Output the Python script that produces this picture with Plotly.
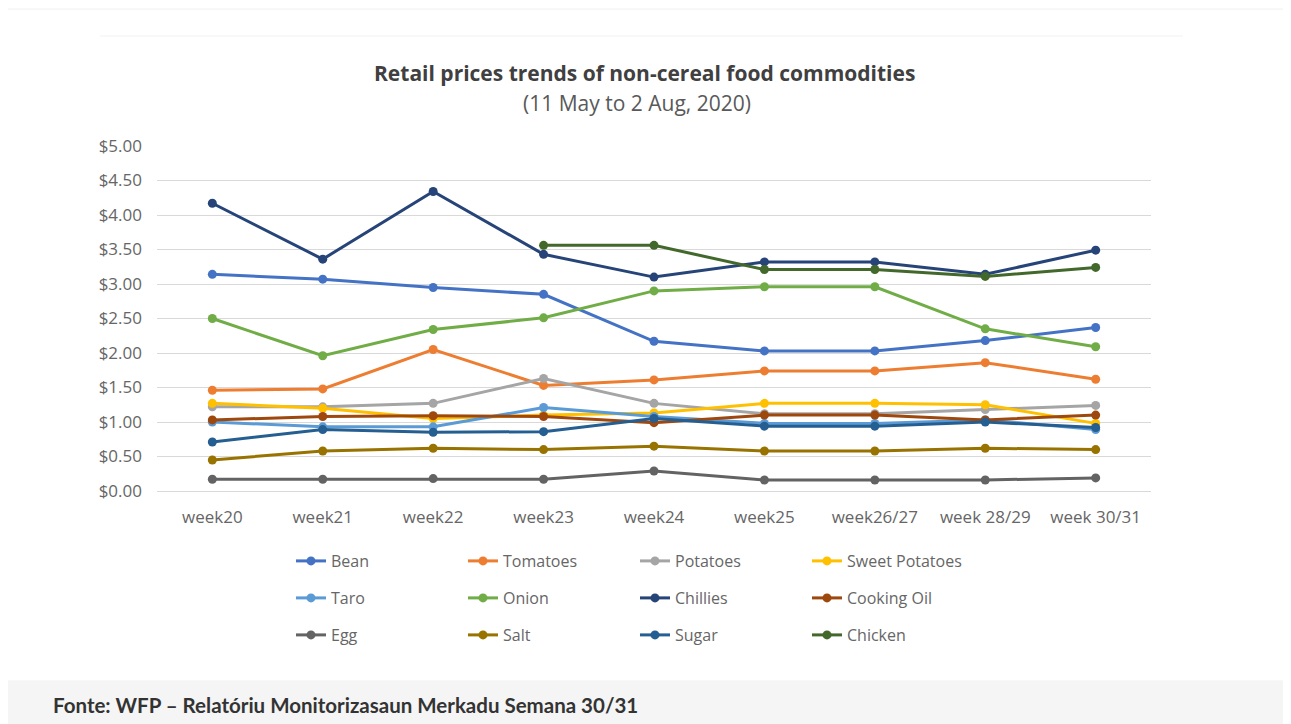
import plotly.graph_objects as go

weeks = ["week20", "week21", "week22", "week23", "week24", "week25",
         "week26/27", "week 28/29", "week 30/31"]

bean = [3.14, 3.07, 2.95, 2.85, 2.17, 2.03, 2.03, 2.18, 2.37]
tomatoes = [1.46, 1.48, 2.05, 1.53, 1.61, 1.74, 1.74, 1.86, 1.62]
potatoes = [1.22, 1.22, 1.27, 1.63, 1.27, 1.12, 1.12, 1.18, 1.24]
sweet_potatoes = [1.27, 1.20, 1.05, 1.10, 1.13, 1.27, 1.27, 1.25, 0.98]
taro = [1.00, 0.93, 0.93, 1.21, 1.08, 0.98, 0.98, 1.03, 0.89]
onion = [2.50, 1.96, 2.34, 2.51, 2.90, 2.96, 2.96, 2.35, 2.09]
chillies = [4.17, 3.36, 4.34, 3.43, 3.10, 3.32, 3.32, 3.14, 3.49]
cooking_oil = [1.03, 1.08, 1.09, 1.08, 0.99, 1.10, 1.10, 1.03, 1.10]
egg = [0.17, 0.17, 0.18, 0.17, 0.29, 0.16, 0.16, 0.16, 0.19]
salt = [0.45, 0.58, 0.62, 0.60, 0.65, 0.58, 0.58, 0.62, 0.60]
sugar = [0.71, 0.89, 0.85, 0.86, 1.05, 0.94, 0.94, 1.00, 0.92]
chicken = [None, None, None, 3.56, 3.56, 3.21, 3.21, 3.11, 3.24]

series = [
    ("Bean", bean, "#4472C4"),
    ("Tomatoes", tomatoes, "#ED7D31"),
    ("Potatoes", potatoes, "#A5A5A5"),
    ("Sweet Potatoes", sweet_potatoes, "#FFC000"),
    ("Taro", taro, "#5B9BD5"),
    ("Onion", onion, "#70AD47"),
    ("Chillies", chillies, "#264478"),
    ("Cooking Oil", cooking_oil, "#9E480E"),
    ("Egg", egg, "#636363"),
    ("Salt", salt, "#997300"),
    ("Sugar", sugar, "#255E91"),
    ("Chicken", chicken, "#43682B"),
]

W, H = 1291, 724
OFF = 8  # page body margin
L, R, T, B = 157 - OFF, 1151 - OFF, 146 - OFF, 491 - OFF  # plot area (figure px)


def px(x_page):
    return (x_page - OFF - L) / (R - L)


def py(y_page):
    return (B - (y_page - OFF)) / (B - T)


fig = go.Figure()
legend_names = ["legend", "legend2", "legend3"]
for i, (name, vals, col) in enumerate(series):
    fig.add_trace(go.Scatter(
        x=weeks, y=vals, name=name, mode="lines+markers",
        line=dict(color=col, width=3),
        marker=dict(color=col, size=9, symbol="circle"),
        connectgaps=False,
        legend=legend_names[i // 4],
    ))

txt_font = "Open Sans, sans-serif"
leg_font = dict(family=txt_font, size=16, color="#666666")
legend_rows_y = [561, 598, 635]
legends = {}
for name, yy in zip(legend_names, legend_rows_y):
    legends[name] = dict(
        orientation="h", x=px(291), xanchor="left", y=py(yy), yanchor="middle",
        entrywidth=127, entrywidthmode="pixels", font=leg_font,
        bgcolor="rgba(0,0,0,0)", tracegroupgap=0, itemclick=False,
    )

shapes = [
    # faint card border
    dict(type="rect", xref="paper", yref="paper",
         x0=px(6), x1=px(1285), y0=py(681), y1=py(9),
         line=dict(color="#f0f0f0", width=1), fillcolor="white", layer="below"),
    # faint inner chart frame line
    dict(type="line", xref="paper", yref="paper",
         x0=px(100), x1=px(1183), y0=py(36), y1=py(36),
         line=dict(color="#f2f2f2", width=1), layer="below"),
    # gray footer band
    dict(type="rect", xref="paper", yref="paper",
         x0=px(6), x1=px(1300), y0=py(740), y1=py(681),
         line=dict(width=0), fillcolor="#f5f5f5", layer="below"),
]

annotations = [
    dict(text="<b>Retail prices trends of non-cereal food commodities</b>",
         xref="paper", yref="paper", x=px(644), y=py(73), xanchor="center", yanchor="middle",
         showarrow=False, font=dict(family=txt_font, size=21, color="#404040")),
    dict(text="(11 May to 2 Aug, 2020)",
         xref="paper", yref="paper", x=px(637), y=py(103), xanchor="center", yanchor="middle",
         showarrow=False, font=dict(family=txt_font, size=21, color="#595959")),
    dict(text="<b>Fonte: WFP – Relatóriu Monitorizasaun Merkadu Semana 30/31</b>",
         xref="paper", yref="paper", x=px(51), y=py(705), xanchor="left", yanchor="middle",
         showarrow=False, font=dict(family="Lato, sans-serif", size=20.5, color="#333333")),
]

tick_font = dict(family=txt_font, size=17, color="#666666")

fig.update_layout(
    width=W, height=H,
    margin=dict(l=L, r=W - R, t=T, b=H - B),
    paper_bgcolor="white", plot_bgcolor="white",
    showlegend=True,
    shapes=shapes, annotations=annotations,
    xaxis=dict(type="category", showgrid=False, zeroline=False, showline=False,
               ticks="", tickfont=tick_font, ticklabelstandoff=14,
               fixedrange=True),
    yaxis=dict(range=[0, 5], dtick=0.5, tick0=0, tickformat="$.2f",
               showgrid=True, gridcolor="#d9d9d9", gridwidth=1,
               zeroline=True, zerolinecolor="#d9d9d9", zerolinewidth=1,
               showline=False, ticks="", ticklabelstandoff=14,
               tickfont=tick_font, fixedrange=True),
    **legends,
)

fig.write_html("out.html")
